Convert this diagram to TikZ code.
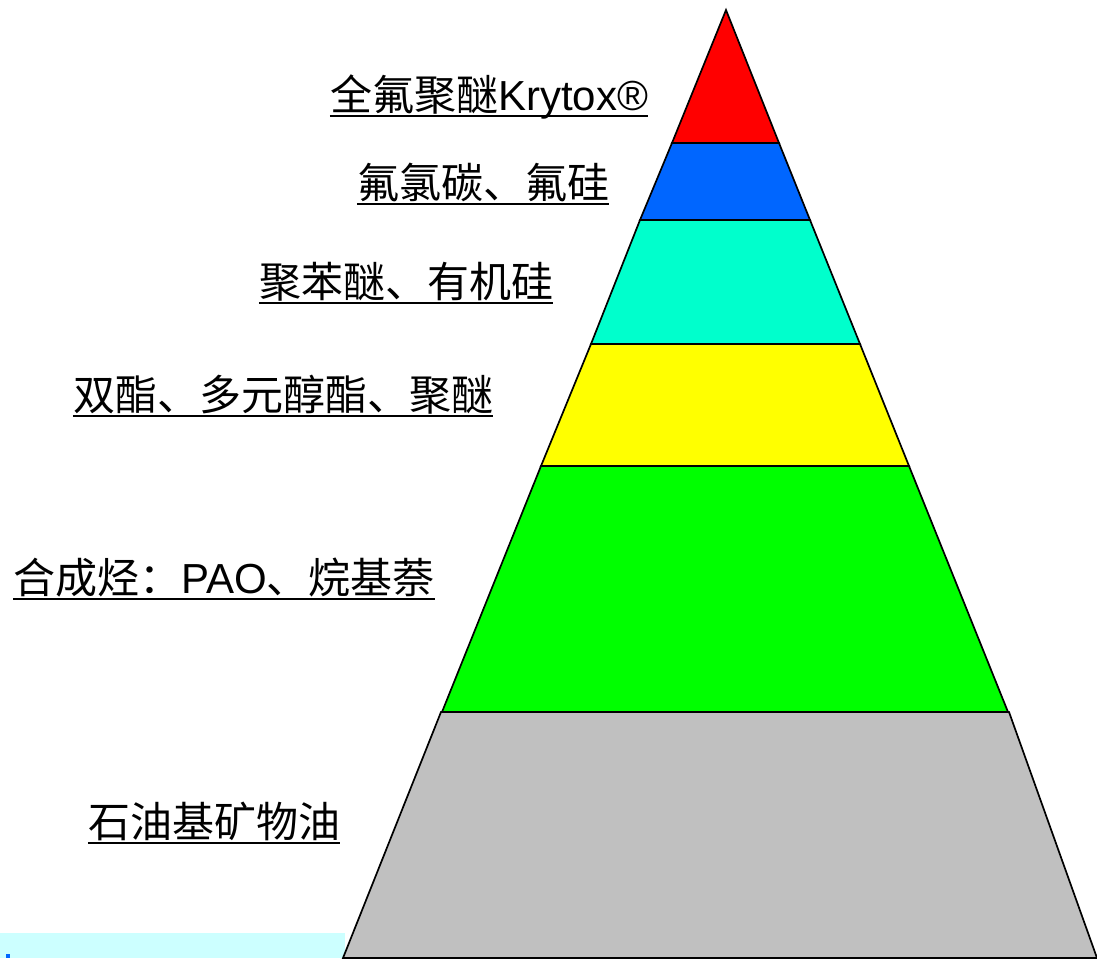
\documentclass[tikz,border=0pt]{standalone}
\usepackage{fontspec}
\setmainfont{Liberation Sans}
\newfontfamily\cjk{Noto Sans CJK SC}
\definecolor{lyrRed}{HTML}{FF0000}
\definecolor{lyrBlue}{HTML}{0066FF}
\definecolor{lyrCyan}{HTML}{00FFCC}
\definecolor{lyrYellow}{HTML}{FFFF00}
\definecolor{lyrGreen}{HTML}{00FF00}
\definecolor{lyrGray}{HTML}{C0C0C0}
\definecolor{stripCyan}{HTML}{CCFFFF}
\definecolor{markBlue}{HTML}{0066FF}
\begin{document}
\begin{tikzpicture}[x=1pt,y=-1pt,
  layer/.style={draw=black,line width=1.7pt,line join=miter},
  lbl/.style={inner sep=0pt,anchor=base,font=\fontsize{42}{50}\selectfont},
  uline/.style={line width=1.6pt}]
\useasboundingbox (0,0) rectangle (1097,958);
\fill[stripCyan] (0,933) rectangle (345,958);
\fill[markBlue] (6,954) rectangle (10,958);
% pyramid layers
\path[layer,fill=lyrGray]   (441,712) -- (1009,712) -- (1097,958) -- (343,958) -- cycle;
\path[layer,fill=lyrGreen]  (541,466) -- (909,466) -- (1008,712) -- (442,712) -- cycle;
\path[layer,fill=lyrYellow] (591,344) -- (860,344) -- (909,466) -- (541,466) -- cycle;
\path[layer,fill=lyrCyan]   (640,220) -- (810,220) -- (860,344) -- (591,344) -- cycle;
\path[layer,fill=lyrBlue]   (672,143) -- (779,143) -- (810,220) -- (640,220) -- cycle;
\path[layer,fill=lyrRed]    (726,10) -- (779,143) -- (672,143) -- cycle;
% labels
\node[lbl] (t1) at (489,110) {{\cjk 全氟聚醚}Krytox®};
\node[lbl] (t2) at (483,198) {\cjk 氟氯碳、氟硅};
\node[lbl] (t3) at (406,297) {\cjk 聚苯醚、有机硅};
\node[lbl] (t4) at (283,410) {\cjk 双酯、多元醇酯、聚醚};
\node[lbl] (t5) at (224,593) {{\cjk 合成烃：}PAO{\cjk 、烷基萘}};
\node[lbl] (t6) at (214,837) {\cjk 石油基矿物油};
\foreach \n in {t1,t2,t3,t4,t5,t6}
  \draw[uline] ([yshift=-6pt]\n.base west) -- ([yshift=-6pt]\n.base east);
\end{tikzpicture}
\end{document}
